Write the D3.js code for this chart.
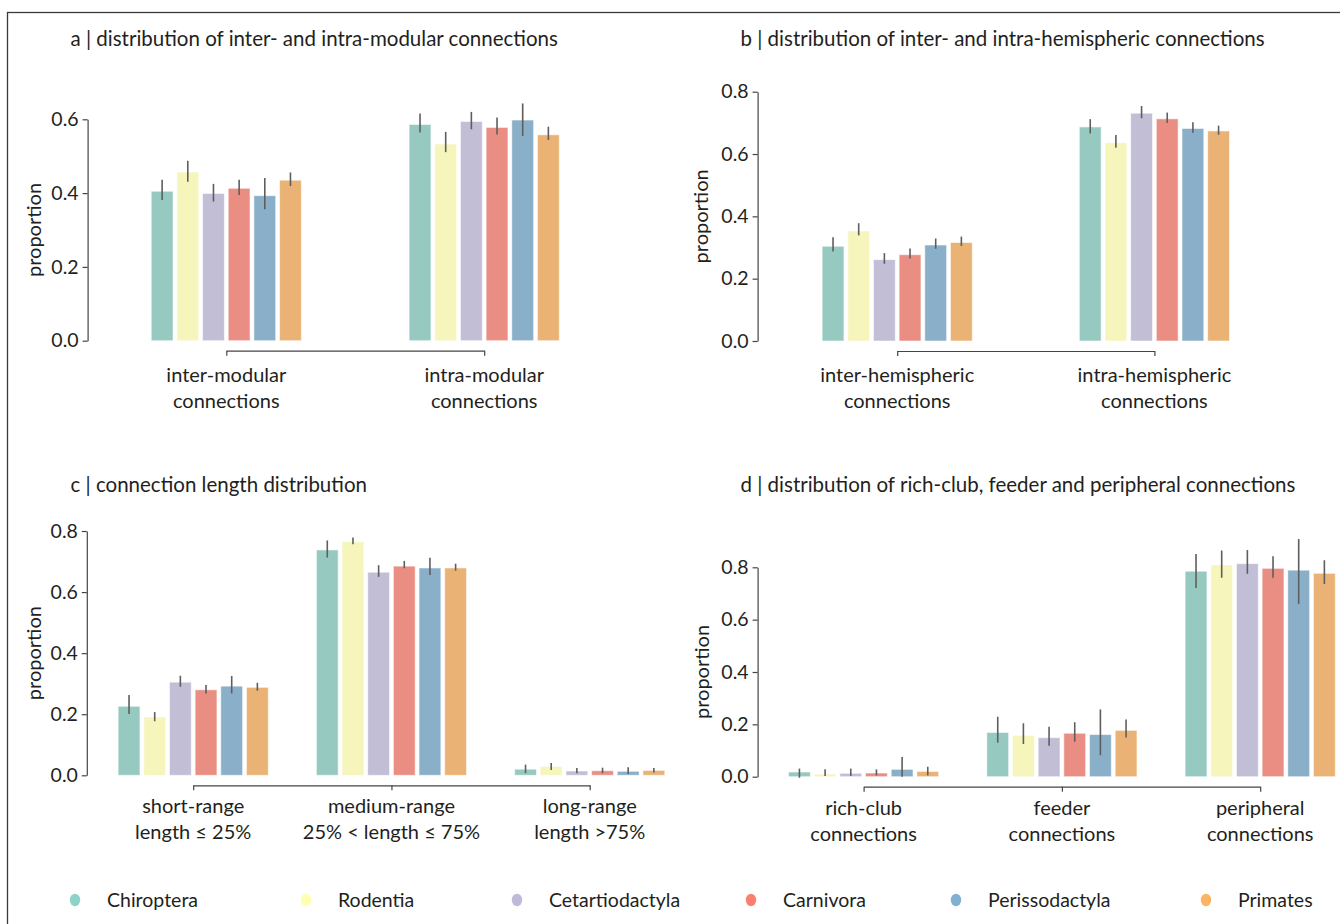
<!DOCTYPE html>
<html>
<head>
<meta charset="utf-8">
<script src="https://cdn.jsdelivr.net/npm/d3@7"></script>
<style>
  html, body { margin: 0; padding: 0; background: #fff; }
  svg { display: block; font-family: Lato, "Open Sans", sans-serif; }
  text { fill: #231f20; }
</style>
</head>
<body>
<svg id="chart" width="1340" height="924"></svg>
<script>
// Species (hue order) and colours
const species = ["Chiroptera", "Rodentia", "Cetartiodactyla", "Carnivora", "Perissodactyla", "Primates"];
const barColors = ["#96CAC1", "#F5F5BC", "#C1BED6", "#EA8E83", "#8AAFC9", "#EAB375"];
const legendColors = ["#8DD3C7", "#FFFFB3", "#BEBADA", "#FB8072", "#80B1D3", "#FDB462"];

// a | modular connections
const modularCategories = [["inter-modular", "connections"], ["intra-modular", "connections"]];
const modularMean = [[0.405, 0.457, 0.399, 0.413, 0.393, 0.435], [0.586, 0.533, 0.594, 0.578, 0.598, 0.558]];
const modularLow  = [[0.381, 0.431, 0.377, 0.395, 0.356, 0.419], [0.564, 0.511, 0.573, 0.559, 0.555, 0.544]];
const modularHigh = [[0.436, 0.488, 0.425, 0.436, 0.441, 0.456], [0.616, 0.566, 0.620, 0.605, 0.643, 0.580]];
const modularTicks = [0, 0.2, 0.4, 0.6];

// b | hemispheric connections
const hemiCategories = [["inter-hemispheric", "connections"], ["intra-hemispheric", "connections"]];
const hemiMean = [[0.304, 0.353, 0.261, 0.277, 0.308, 0.316], [0.687, 0.636, 0.731, 0.713, 0.682, 0.674]];
const hemiLow  = [[0.287, 0.339, 0.248, 0.265, 0.296, 0.305], [0.666, 0.620, 0.715, 0.700, 0.668, 0.662]];
const hemiHigh = [[0.333, 0.378, 0.282, 0.297, 0.329, 0.335], [0.712, 0.661, 0.754, 0.733, 0.702, 0.691]];
const hemiTicks = [0, 0.2, 0.4, 0.6, 0.8];

// c | connection length
const lengthCategories = [["short-range", "length \u2264 25%"], ["medium-range", "25% < length \u2264 75%"], ["long-range", "length >75%"]];
const lengthMean = [[0.226, 0.191, 0.305, 0.280, 0.292, 0.288], [0.738, 0.765, 0.665, 0.685, 0.679, 0.679], [0.020, 0.029, 0.014, 0.015, 0.013, 0.016]];
const lengthLow  = [[0.201, 0.177, 0.290, 0.268, 0.268, 0.277], [0.713, 0.757, 0.650, 0.678, 0.656, 0.670], [0.007, 0.017, 0.007, 0.007, 0.004, 0.009]];
const lengthHigh = [[0.263, 0.207, 0.326, 0.296, 0.325, 0.303], [0.769, 0.779, 0.688, 0.702, 0.712, 0.693], [0.035, 0.040, 0.024, 0.025, 0.026, 0.024]];
const lengthTicks = [0, 0.2, 0.4, 0.6, 0.8];

// d | rich-club, feeder, peripheral
const clubCategories = [["rich-club", "connections"], ["feeder", "connections"], ["peripheral", "connections"]];
const clubMean = [[0.018, 0.010, 0.013, 0.014, 0.028, 0.020], [0.169, 0.158, 0.149, 0.166, 0.161, 0.177], [0.785, 0.809, 0.814, 0.796, 0.789, 0.777]];
const clubLow  = [[-0.004, 0.003, 0.003, 0.005, 0.000, 0.005], [0.130, 0.125, 0.118, 0.134, 0.082, 0.150], [0.721, 0.760, 0.775, 0.760, 0.660, 0.736]];
const clubHigh = [[0.031, 0.028, 0.031, 0.028, 0.075, 0.038], [0.229, 0.204, 0.191, 0.208, 0.257, 0.219], [0.851, 0.864, 0.866, 0.842, 0.908, 0.827]];
const clubTicks = [0, 0.2, 0.4, 0.6, 0.8];

const titles = [
  "a | distribution of inter- and intra-modular connections",
  "b | distribution of inter- and intra-hemispheric connections",
  "c | connection length distribution",
  "d | distribution of rich-club, feeder and peripheral connections"
];

// Panel geometry (pixels)
const panels = [
  { title: titles[0], cats: modularCategories, mean: modularMean, low: modularLow, high: modularHigh, ticks: modularTicks,
    catX: [226.3, 484.2], spineX: 87.6, y0: 340.7, yTop: 119.3, titleX: 70.5, titleY: 46, labelX: 33, catDy: 31 },
  { title: titles[1], cats: hemiCategories, mean: hemiMean, low: hemiLow, high: hemiHigh, ticks: hemiTicks,
    catX: [897.2, 1154.4], spineX: 757.6, y0: 341, yTop: 91.7, titleX: 740.5, titleY: 46, labelX: 700, catDy: 31 },
  { title: titles[2], cats: lengthCategories, mean: lengthMean, low: lengthLow, high: lengthHigh, ticks: lengthTicks,
    catX: [193.2, 589.7], spineX: 86.8, y0: 775.3, yTop: 531, titleX: 70.5, titleY: 491.5, labelX: 33, catDy: 28 },
  { title: titles[3], cats: clubCategories, mean: clubMean, low: clubLow, high: clubHigh, ticks: clubTicks,
    catX: [863.6, 1260.2], spineX: 757.6, y0: 776.7, yTop: 567.3, titleX: 740.5, titleY: 491.5, labelX: 701, catDy: 28 }
];

const groupWidth = 154;   // width of one cluster of six bars
const spineGap = 10;      // offset of the bottom spine below zero

const svg = d3.select("#chart");
svg.append("rect").attr("width", 1340).attr("height", 924).attr("fill", "#fff");

// outer frame
svg.append("rect")
  .attr("x", 7.5).attr("y", 12.5).attr("width", 1400).attr("height", 1000)
  .attr("fill", "none").attr("stroke", "#3a3a3a").attr("stroke-width", 1.3);

panels.forEach(p => {
  const g = svg.append("g");
  const n = p.cats.length;
  const x = d3.scaleLinear().domain([0, n - 1]).range(p.catX);
  const y = d3.scaleLinear().domain([0, d3.max(p.ticks)]).range([p.y0, p.yTop]);
  const hue = d3.scaleBand().domain(species).range([-groupWidth / 2, groupWidth / 2]).paddingInner(0.15).paddingOuter(0.075);

  // title
  g.append("text").attr("x", p.titleX).attr("y", p.titleY)
    .attr("font-size", 20.5).text(p.title);

  // bars
  p.mean.forEach((vals, ci) => {
    vals.forEach((v, si) => {
      g.append("rect")
        .attr("x", x(ci) + hue(species[si]))
        .attr("y", y(Math.max(v, 0)))
        .attr("width", hue.bandwidth())
        .attr("height", Math.abs(y(0) - y(v)))
        .attr("fill", barColors[si])
        .attr("stroke", "#ffffff").attr("stroke-opacity", 0.55).attr("stroke-width", 1);
    });
  });

  // error bars
  p.mean.forEach((vals, ci) => {
    vals.forEach((v, si) => {
      const cx = x(ci) + hue(species[si]) + hue.bandwidth() / 2;
      g.append("line")
        .attr("x1", cx).attr("x2", cx)
        .attr("y1", y(p.low[ci][si])).attr("y2", y(p.high[ci][si]))
        .attr("stroke", "#5e5e5e").attr("stroke-width", 1.6);
    });
  });

  // y axis (trimmed spine)
  const yAxis = d3.axisLeft(y).tickValues(p.ticks).tickFormat(d3.format(".1f"))
    .tickSize(5).tickSizeOuter(0).tickPadding(4);
  const ya = g.append("g").attr("transform", `translate(${p.spineX},0)`).call(yAxis);
  ya.selectAll("path, line").attr("stroke", "#444").attr("stroke-width", 1.2);
  ya.selectAll("text").attr("font-size", 19.5).attr("font-family", "Lato, sans-serif").attr("fill", "#231f20");

  // y label
  g.append("text")
    .attr("transform", `translate(${p.labelX},${(p.y0 + p.yTop) / 2}) rotate(-90)`)
    .attr("text-anchor", "middle").attr("dominant-baseline", "central")
    .attr("font-size", 20).text("proportion");

  // x axis (trimmed spine between first and last category)
  const spineY = p.y0 + spineGap;
  const xAxis = d3.axisBottom(x).tickValues(d3.range(n)).tickFormat("")
    .tickSize(5).tickSizeOuter(0);
  const xa = g.append("g").attr("transform", `translate(0,${spineY})`).call(xAxis);
  xa.selectAll("path, line").attr("stroke", "#444").attr("stroke-width", 1.2);

  // category labels (two lines)
  p.cats.forEach((lines, ci) => {
    const t = g.append("text").attr("text-anchor", "middle").attr("font-size", 20);
    lines.forEach((ln, li) => {
      t.append("tspan").attr("x", x(ci)).attr("y", spineY + p.catDy + li * 25.8).text(ln);
    });
  });
});

// legend
const legendX = [75, 306, 517, 751, 956, 1206];
const legend = svg.append("g");
species.forEach((s, i) => {
  legend.append("ellipse").attr("cx", legendX[i]).attr("cy", 900)
    .attr("rx", 5.2).attr("ry", 6.2).attr("fill", legendColors[i]);
  legend.append("text").attr("x", legendX[i] + 32).attr("y", 906.5)
    .attr("font-size", 19.5).text(s);
});
</script>
</body>
</html>
